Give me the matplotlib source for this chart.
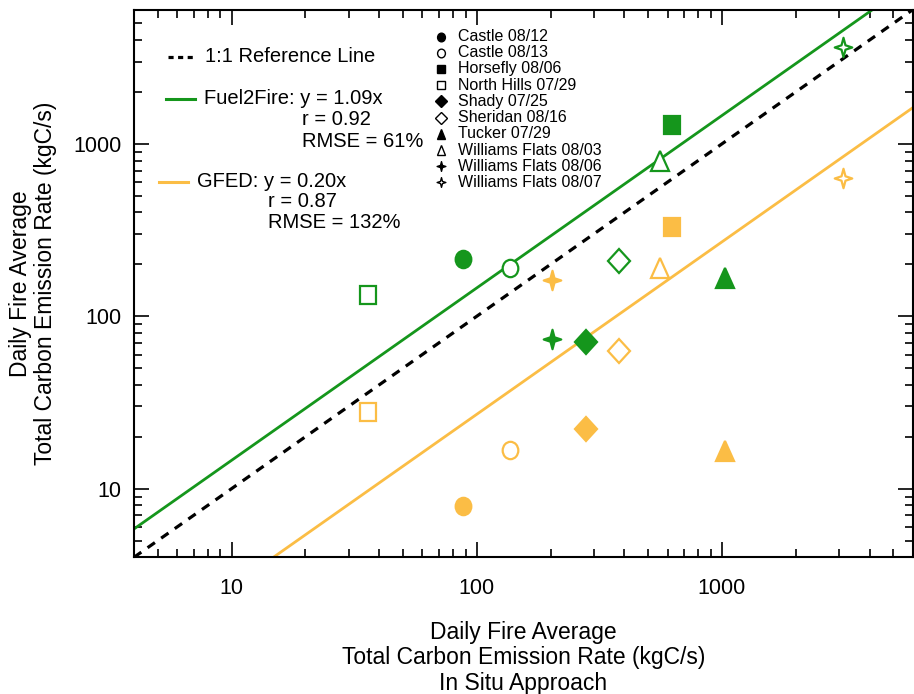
import numpy as np
import matplotlib.pyplot as plt
from matplotlib.path import Path
from matplotlib.markers import MarkerStyle
from matplotlib.transforms import Affine2D

plt.rcParams['font.family'] = ['Liberation Sans', 'DejaVu Sans']

# data (kgC/s)
sites = ['Castle 08/12', 'Castle 08/13', 'Horsefly 08/06', 'North Hills 07/29',
         'Shady 07/25', 'Sheridan 08/16', 'Tucker 07/29', 'Williams Flats 08/03',
         'Williams Flats 08/06', 'Williams Flats 08/07']
insitu = [88, 137, 623, 36, 280, 379, 1025, 557, 202, 3110]
fuel2fire = [215, 190, 1295, 133, 71, 209, 167, 800, 74, 3630]
gfed = [7.9, 16.8, 330, 27.7, 22.3, 62.7, 16.6, 190, 162, 637]

star = Path.unit_regular_star(4, 0.32)
shapes = ['o', 'o', 's', 's', 'D', 'D', '^', '^', star, star]
filled = [True, False, True, False, True, False, True, False, True, False]
sizes = [12.5, 12.5, 12.5, 12.5, 12.5, 12.5, 14, 14, 14, 14]

# fit lines: slope as drawn on the figure, and as printed in the legend
f2f_slope, f2f_label = 1.46, '1.09'
gfed_slope, gfed_label = 0.27, '0.20'
f2f_r, f2f_rmse = '0.92', '61%'
gfed_r, gfed_rmse = '0.87', '132%'

green = '#15961c'
orange = '#fbbd45'


def mk(shape):
    # the original figure is slightly squeezed sideways
    return MarkerStyle(shape, transform=Affine2D().scale(0.9, 1.0))


fig = plt.figure(figsize=(9.14, 6.94), dpi=100)
ax = fig.add_axes([0.1466, 0.197, 0.852, 0.789])
ax.set_xscale('log')
ax.set_yscale('log')
ax.set_xlim(4, 6000)
ax.set_ylim(4, 6000)

xx = np.array([4, 6000])
ax.plot(xx, xx, color='black', lw=2.3, dashes=(2.8, 2.4))
ax.plot(xx, f2f_slope * xx, color=green, lw=2.0)
ax.plot(xx, gfed_slope * xx, color=orange, lw=2.0)

for i in range(len(sites)):
    for vals, col in [(fuel2fire, green), (gfed, orange)]:
        face = col if filled[i] else 'white'
        ax.plot(insitu[i], vals[i], marker=mk(shapes[i]), ms=sizes[i],
                mfc=face, mec=col, mew=1.6, ls='none', zorder=3)

# line legend
tr = ax.transAxes
fs = 14.5
ax.plot([0.044, 0.080], [0.914, 0.914], transform=tr, color='black', lw=2.3, dashes=(1.6, 1.4))
ax.text(0.091, 0.914, '1:1 Reference Line', transform=tr, fontsize=fs, va='center')
ax.plot([0.041, 0.078], [0.837, 0.837], transform=tr, color=green, lw=2.2)
ax.text(0.090, 0.837, 'Fuel2Fire: y = %sx' % f2f_label, transform=tr, fontsize=fs, va='center')
ax.text(0.216, 0.799, 'r = %s' % f2f_r, transform=tr, fontsize=fs, va='center')
ax.text(0.216, 0.760, 'RMSE = %s' % f2f_rmse, transform=tr, fontsize=fs, va='center')
ax.plot([0.032, 0.069], [0.686, 0.686], transform=tr, color=orange, lw=2.2)
ax.text(0.081, 0.686, 'GFED: y = %sx' % gfed_label, transform=tr, fontsize=fs, va='center')
ax.text(0.172, 0.649, 'r = %s' % gfed_r, transform=tr, fontsize=fs, va='center')
ax.text(0.172, 0.612, 'RMSE = %s' % gfed_rmse, transform=tr, fontsize=fs, va='center')

# marker legend
for i, name in enumerate(sites):
    y = 0.951 - i * 0.0296
    ax.plot(0.3946, y, transform=tr, marker=mk(shapes[i]), ms=sizes[i] * 0.5,
            mfc='black' if filled[i] else 'white', mec='black', mew=1.0, ls='none')
    ax.text(0.4165, y, name, transform=tr, fontsize=11.5, va='center')

ax.set_xticks([10, 100, 1000])
ax.set_xticklabels(['10', '100', '1000'])
ax.set_yticks([10, 100, 1000])
ax.set_yticklabels(['10', '100', '1000'])
ax.tick_params(which='both', direction='in', top=True, right=True, labelsize=15.5)
ax.tick_params(which='major', length=10.5, width=1.2)
ax.tick_params(axis='x', which='major', pad=15)
ax.tick_params(axis='y', which='major', pad=9)
ax.tick_params(which='minor', length=5.5, width=1.2)
ax.minorticks_on()
for s in ax.spines.values():
    s.set_linewidth(1.5)

ax.set_ylabel('Daily Fire Average\nTotal Carbon Emission Rate (kgC/s)', fontsize=16.5,
              labelpad=12, linespacing=1.1)
ax.set_xlabel('Daily Fire Average\nTotal Carbon Emission Rate (kgC/s)\nIn Situ Approach',
              fontsize=16.5, labelpad=16, linespacing=1.12)

fig.savefig('out.png', dpi=100)
